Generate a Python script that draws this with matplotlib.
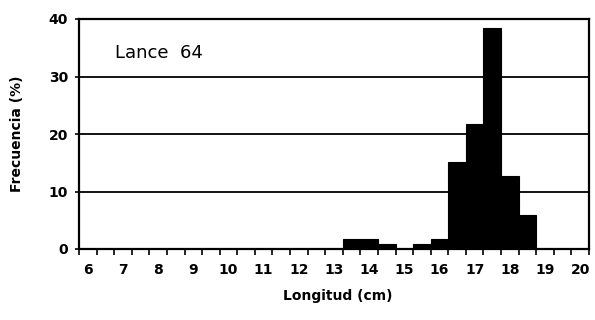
import matplotlib
matplotlib.use("Agg")
import matplotlib.pyplot as plt
import numpy as np

# Data: length classes (cm) and frequency (%)
lengths = [6, 6.5, 7, 7.5, 8, 8.5, 9, 9.5, 10, 10.5, 11, 11.5, 12, 12.5, 13,
           13.5, 14, 14.5, 15, 15.5, 16, 16.5, 17, 17.5, 18, 18.5, 19, 19.5, 20]
freq = [0, 0, 0, 0, 0, 0, 0, 0, 0, 0, 0, 0, 0, 0, 0,
        1.7, 1.7, 0.9, 0, 0.9, 1.7, 15.2, 21.7, 38.5, 12.7, 5.9, 0, 0, 0]
tick_labels = [str(int(v)) if float(v).is_integer() else "" for v in lengths]
yticks = [0, 10, 20, 30, 40]

plt.rcParams['font.family'] = ['DejaVu Sans']

fig = plt.figure(figsize=(5.95, 3.2), dpi=100)
ax = fig.add_axes([79/595, 1-249/320, (589-79)/595, (249-19)/320])

x = np.arange(len(lengths))
ax.bar(x, freq, width=1.0, color='black', edgecolor='black', linewidth=0.8, zorder=3)

ax.set_xlim(-0.5, len(lengths)-0.5)
ax.set_ylim(0, 40)

# gridlines
ax.set_yticks(yticks)
ax.yaxis.grid(True, color='black', linewidth=1.3, zorder=1)
ax.set_axisbelow(True)

# x ticks: labels at integer cm, marks at category boundaries
lab_pos = [i for i, t in enumerate(tick_labels) if t]
ax.set_xticks(lab_pos)
ax.set_xticklabels([tick_labels[i] for i in lab_pos], fontsize=10, fontweight='bold')
ax.set_xticks(np.arange(-0.5, len(lengths)), minor=True)
ax.tick_params(axis='x', which='major', length=0, pad=10)
ax.tick_params(axis='x', which='minor', length=4, width=1.2, direction='out', color='black')
ax.tick_params(axis='y', which='major', length=3, width=1.2, direction='out', pad=5)
for lab in ax.get_yticklabels():
    lab.set_fontsize(10)
    lab.set_fontweight('bold')

for s in ax.spines.values():
    s.set_linewidth(1.6)
    s.set_color('black')

ax.text(0.07, 0.85, "Lance  64", transform=ax.transAxes, fontsize=13,
        ha='left', va='center')

fig.text(17/595, 1-134/320, "Frecuencia (%)", rotation=90, fontsize=10,
         fontweight='bold', ha='center', va='center')
fig.text(338/595, 1-296/320, "Longitud (cm)", fontsize=10,
         fontweight='bold', ha='center', va='center')

fig.savefig("out.png", dpi=100)
